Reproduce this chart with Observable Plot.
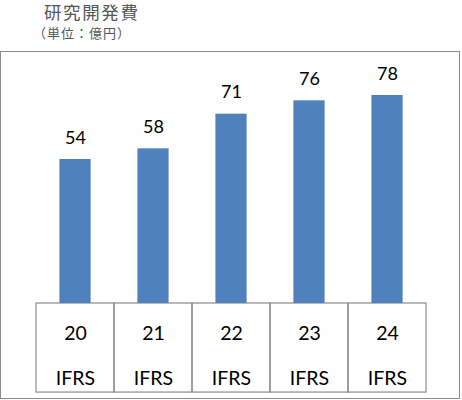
<!DOCTYPE html>
<html><head><meta charset="utf-8">
<script src="https://cdn.jsdelivr.net/npm/d3@7"></script>
<script src="https://cdn.jsdelivr.net/npm/@observablehq/plot@0.6"></script>
<style>
body{margin:0;background:#fff;font-family:"Noto Sans CJK JP",sans-serif}
#wrap{position:relative;width:462px;height:400px;overflow:hidden}
#title{position:absolute;left:44px;top:3px;font-size:17.5px;line-height:1;letter-spacing:1.6px;color:#555;white-space:nowrap}
#sub{position:absolute;left:33px;top:26px;font-size:13px;line-height:1;letter-spacing:1px;color:#555;white-space:nowrap}
#box{position:absolute;left:0;top:51px;width:458px;height:346px;border:1px solid #8c8c8c}
#chart{position:absolute;left:0;top:51px}
</style></head>
<body>
<div id="wrap">
  <div id="title">研究開発費</div>
  <div id="sub">（単位：億円）</div>
  <div id="box"></div>
  <div id="chart"></div>
</div>
<script>
// data
const years = ["20", "21", "22", "23", "24"];
const standards = ["IFRS", "IFRS", "IFRS", "IFRS", "IFRS"];
const values = [54, 58, 71, 76, 78];

const data = years.map((year, i) => ({year, standard: standards[i], value: values[i]}));
const tableDepth = -33.4; // table cell extent below zero, in value units

const chart = Plot.plot({
  width: 462,
  height: 349,
  marginTop: 12,
  marginBottom: 97,
  marginLeft: 34,
  marginRight: 34,
  style: {fontFamily: "Lato, sans-serif", fontSize: "18px", color: "#000", background: "transparent"},
  x: {domain: years, padding: 0, axis: null},
  y: {domain: [0, 90], axis: null},
  marks: [
    Plot.rect(data, {x: "year", y1: 0, y2: tableDepth, fill: "none", stroke: "#8c8c8c", strokeWidth: 1.2}),
    Plot.barY(data, {x: "year", y: "value", fill: "#4F81BD", insetLeft: 23.4, insetRight: 23.4}),
    Plot.text(data, {x: "year", y: "value", text: d => String(d.value), dy: -16, lineAnchor: "bottom", fontSize: 18, fill: "#000"}),
    Plot.axisX(years, {tickSize: 0, tickPadding: 22.7, fontSize: 19.5, fill: "#000", label: null}),
    Plot.axisX(years, {tickSize: 0, tickPadding: 67.5, fontSize: 19.5, fill: "#000", label: null,
      tickFormat: d => standards[years.indexOf(d)]})
  ]
});
document.getElementById("chart").appendChild(chart);
</script>
</body></html>
